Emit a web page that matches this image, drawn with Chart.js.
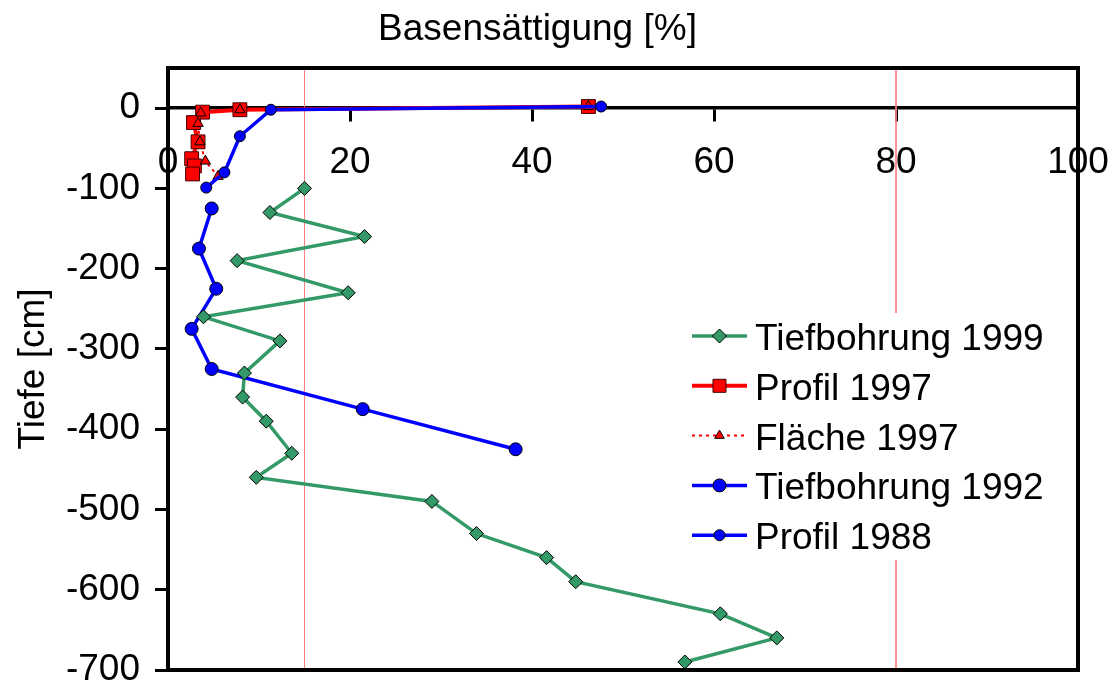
<!DOCTYPE html>
<html>
<head>
<meta charset="utf-8">
<script src="https://cdn.jsdelivr.net/npm/chart.js@4/dist/chart.umd.min.js"></script>
<style>
  html, body { margin: 0; padding: 0; background: #fff; }
  #wrap { width: 1117px; height: 686px; }
</style>
</head>
<body>
<div id="wrap"><canvas id="c" width="1117" height="686"></canvas></div>
<script>
// ---- Data ----
const xTitle = 'Basensättigung [%]';
const yTitle = 'Tiefe [cm]';
const seriesNames = ['Tiefbohrung 1999', 'Profil 1997', 'Fläche 1997', 'Tiefbohrung 1992', 'Profil 1988'];

const tief1999_x = [15.0, 11.2, 21.6, 7.6, 19.8, 3.9, 12.3, 8.4, 8.2, 10.8, 13.6, 9.7, 29.0, 33.9, 41.6, 44.8, 60.7, 66.9, 56.8];
const tief1999_y = [-100, -130, -160, -190, -230, -260, -290, -330, -360, -390, -430, -460, -490, -530, -560, -590, -630, -660, -690];

const profil1997_x = [46.2, 7.9, 3.8, 2.8, 3.3, 2.6, 2.9, 2.7];
const profil1997_y = [2, -2, -5, -18, -42, -63, -72, -82];

const flaeche1997_x = [46.2, 7.9, 3.6, 3.3, 3.5, 4.1, 5.5];
const flaeche1997_y = [2, -2, -6, -19, -42, -66, -85];

const tief1992_x = [4.8, 3.4, 5.3, 2.6, 4.8, 21.4, 38.2];
const tief1992_y = [-125, -175, -225, -275, -325, -375, -425];

const profil1988_x = [47.6, 11.3, 7.9, 6.2, 4.2];
const profil1988_y = [2, -2, -35, -80, -99];

const refLines_x = [15, 80];
const yTickValues = [0, -100, -200, -300, -400, -500, -600, -700];
const xTickValues = [0, 20, 40, 60, 80, 100];
const yRange = [-700, 50];
const xRange = [0, 100];

// ---- helpers ----
function pts(xs, ys) { return xs.map((x, i) => ({ x: x, y: ys[i] })); }
const FONT = "'Liberation Sans', Arial, Helvetica, sans-serif";
const GREEN = '#339966', RED = '#FF0000', BLUE = '#0000FF', REF = '#FF8080';

const datasets = [
  { label: seriesNames[0], data: pts(tief1999_x, tief1999_y), borderColor: GREEN, backgroundColor: GREEN,
    borderWidth: 3.5, pointStyle: 'rectRot', pointRadius: 7, pointBackgroundColor: GREEN,
    pointBorderColor: '#000', pointBorderWidth: 1, order: 0 },
  { label: seriesNames[1], data: pts(profil1997_x, profil1997_y), borderColor: RED, backgroundColor: RED,
    borderWidth: 4, pointStyle: 'rect', pointRadius: 9.8, pointBackgroundColor: RED,
    pointBorderColor: '#400000', pointBorderWidth: 1, order: 3 },
  { label: seriesNames[2], data: pts(flaeche1997_x, flaeche1997_y), borderColor: RED, backgroundColor: RED,
    borderWidth: 2, borderDash: [3, 4], pointStyle: 'triangle', pointRadius: 6, pointBackgroundColor: RED,
    pointBorderColor: '#000', pointBorderWidth: 1, order: 2 },
  { label: seriesNames[3], data: pts(tief1992_x, tief1992_y), borderColor: BLUE, backgroundColor: BLUE,
    borderWidth: 3.5, pointStyle: 'circle', pointRadius: 6.5, pointBackgroundColor: BLUE,
    pointBorderColor: '#000', pointBorderWidth: 1, order: 1 },
  { label: seriesNames[4], data: pts(profil1988_x, profil1988_y), borderColor: BLUE, backgroundColor: BLUE,
    borderWidth: 3.5, pointStyle: 'circle', pointRadius: 5.5, pointBackgroundColor: BLUE,
    pointBorderColor: '#000', pointBorderWidth: 1, order: 1 }
];
refLines_x.forEach((v) => {
  datasets.push({ label: '_ref', data: [{ x: v, y: yRange[1] }, { x: v, y: yRange[0] }],
    borderColor: REF, borderWidth: 1, pointRadius: 0, order: 10, isRef: true });
});

function drawMarker(ctx, style, x, y, r, fill, stroke) {
  ctx.save();
  ctx.beginPath();
  if (style === 'rectRot') {
    ctx.moveTo(x - r, y); ctx.lineTo(x, y - r); ctx.lineTo(x + r, y); ctx.lineTo(x, y + r); ctx.closePath();
  } else if (style === 'rect') {
    const s = Math.SQRT1_2 * r; ctx.rect(x - s, y - s, 2 * s, 2 * s);
  } else if (style === 'triangle') {
    for (let k = 0; k < 3; k++) {
      const a = k * 2 * Math.PI / 3;
      const px = x + Math.sin(a) * r, py = y - Math.cos(a) * r;
      if (k === 0) ctx.moveTo(px, py); else ctx.lineTo(px, py);
    }
    ctx.closePath();
  } else {
    ctx.arc(x, y, r, 0, Math.PI * 2);
  }
  ctx.fillStyle = fill; ctx.fill();
  ctx.lineWidth = 1; ctx.strokeStyle = stroke; ctx.stroke();
  ctx.restore();
}

const framePlugin = {
  id: 'frameAndExtras',
  afterDraw(chart) {
    const ctx = chart.ctx, a = chart.chartArea;
    ctx.save();
    // legend box (white, hides reference line)
    const lx = a.left + 517, ly0 = a.top + 245;
    ctx.fillStyle = '#fff';
    ctx.fillRect(lx - 6, ly0, 380, 247);
    // frame
    ctx.strokeStyle = '#000'; ctx.lineWidth = 4;
    ctx.strokeRect(a.left, a.top, a.right - a.left, a.bottom - a.top);
    // title
    ctx.fillStyle = '#000';
    ctx.font = '37px ' + FONT;
    ctx.textAlign = 'center'; ctx.textBaseline = 'alphabetic';
    ctx.fillText(xTitle, 537.5, 40);
    // legend
    const entryY0 = a.top + 268, step = 49.8;
    seriesNames.forEach((name, i) => {
      const ds = chart.data.datasets[i];
      const y = entryY0 + i * step;
      ctx.save();
      ctx.strokeStyle = ds.borderColor;
      ctx.lineWidth = ds.borderWidth;
      ctx.setLineDash(ds.borderDash || []);
      ctx.beginPath(); ctx.moveTo(lx + 7, y); ctx.lineTo(lx + 62, y); ctx.stroke();
      ctx.restore();
      const rr = ds.pointStyle === 'triangle' ? 5.5 : (ds.pointStyle === 'rect' ? 9.2 : ds.pointRadius);
      drawMarker(ctx, ds.pointStyle, lx + 34.5, y, rr, ds.pointBackgroundColor, ds.pointBorderColor);
      ctx.fillStyle = '#000';
      ctx.font = '37px ' + FONT;
      ctx.textAlign = 'left'; ctx.textBaseline = 'alphabetic';
      ctx.fillText(name, lx + 70, y + 14);
    });
    ctx.restore();
  }
};

new Chart(document.getElementById('c'), {
  type: 'scatter',
  data: { datasets: datasets },
  plugins: [framePlugin],
  options: {
    responsive: false,
    devicePixelRatio: 1,
    animation: false,
    layout: { padding: { left: 0, right: 39, top: 68, bottom: 16 } },
    elements: { line: { tension: 0 } },
    datasets: { scatter: { showLine: true } },
    plugins: { legend: { display: false }, tooltip: { enabled: false }, title: { display: false } },
    scales: {
      x: {
        type: 'linear', min: xRange[0], max: xRange[1],
        position: { y: 0 },
        afterBuildTicks: (s) => { s.ticks = xTickValues.map(v => ({ value: v })); },
        afterFit: (s) => { s.height = 0; s.paddingLeft = 0; s.paddingRight = 0; s.paddingTop = 0; s.paddingBottom = 0; },
        ticks: { color: '#000', font: { family: FONT, size: 37 }, padding: 20, maxRotation: 0, autoSkip: false },
        grid: { drawOnChartArea: false, drawTicks: true, tickLength: 12, color: '#000', lineWidth: 3 },
        border: { display: true, color: '#000', width: 3.5 }
      },
      y: {
        type: 'linear', min: yRange[0], max: yRange[1],
        position: 'left',
        afterBuildTicks: (s) => { s.ticks = yTickValues.map(v => ({ value: v })); },
        afterFit: (s) => { s.width = 168; s.paddingTop = 0; s.paddingBottom = 0; s.paddingLeft = 0; s.paddingRight = 0; },
        ticks: { color: '#000', font: { family: FONT, size: 37 }, padding: 15, autoSkip: false },
        grid: { drawOnChartArea: false, drawTicks: true, tickLength: 13, color: '#000', lineWidth: 3 },
        border: { display: true, color: '#000', width: 4 },
        title: { display: true, text: yTitle, color: '#000', font: { family: FONT, size: 37 }, padding: { top: 12, bottom: 0 } }
      }
    }
  }
});
</script>
</body>
</html>
